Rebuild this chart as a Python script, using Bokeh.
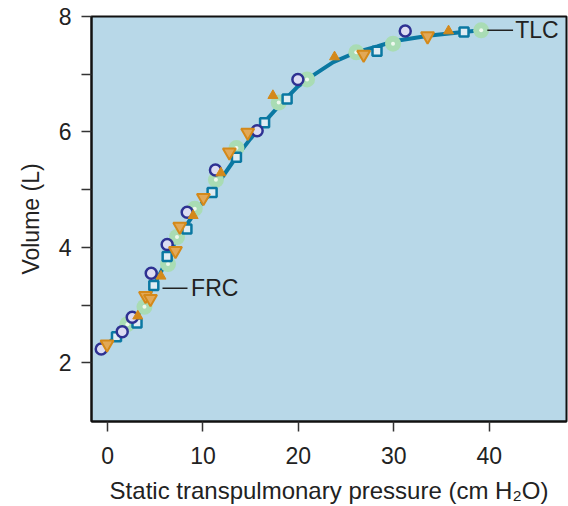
from bokeh.plotting import figure
from bokeh.models import FixedTicker, Range1d, ColumnDataSource
from bokeh.core.properties import value
from bokeh.embed import file_html
from bokeh.resources import INLINE

FONT = "Liberation Sans"

# Pressure-volume curve (cm H2O, L)
curve_x = [-0.63, 0.94, 2.2, 3.14, 4.08, 4.82, 5.65, 6.28, 7.33, 8.38, 9.42, 10.99,
           12.04, 13.51, 14.97, 16.44, 18.12, 19.9, 21.26, 23.66, 26.07, 28.27,
           29.95, 33.82, 37.28, 39.16]
curve_y = [2.26, 2.45, 2.66, 2.81, 3.10, 3.34, 3.59, 3.83, 4.17, 4.41, 4.67, 4.98,
           5.22, 5.57, 5.88, 6.17, 6.48, 6.78, 6.95, 7.21, 7.38, 7.48,
           7.57, 7.67, 7.73, 7.76]

circ_x = [-0.66, 1.54, 2.59, 4.58, 6.25, 8.35, 11.31, 15.68, 19.95, 31.2]
circ_y = [2.24, 2.54, 2.79, 3.55, 4.05, 4.61, 5.34, 6.02, 6.91, 7.75]

sq_x = [0.94, 3.09, 4.85, 6.25, 8.32, 10.96, 13.51, 16.46, 18.82, 28.24, 37.36]
sq_y = [2.45, 2.69, 3.34, 3.84, 4.32, 4.95, 5.56, 6.16, 6.57, 7.40, 7.73]

grn_x = [2.09, 3.87, 6.34, 7.28, 9.14, 11.36, 13.51, 17.94, 20.91, 26.07, 29.92, 39.16]
grn_y = [2.67, 2.97, 3.71, 4.18, 4.67, 5.17, 5.72, 6.51, 6.91, 7.38, 7.53, 7.76]

tdn_x = [-0.05, 3.98, 4.50, 7.12, 7.57, 10.05, 12.77, 14.69, 26.84, 33.54]
tdn_y = [2.32, 3.16, 3.11, 3.94, 4.36, 4.86, 5.65, 5.99, 7.34, 7.66]

tup_x = [3.17, 5.60, 8.97, 11.88, 17.33, 23.79, 35.74]
tup_y = [2.81, 3.50, 4.55, 5.29, 6.63, 7.30, 7.75]

x_ticks = [0, 10, 20, 30, 40]
y_ticks = [2, 4, 6, 8]
y_minor = [3, 5, 7]

labels = ["FRC", "TLC"]
label_x = [8.76, 42.72]
label_y = [3.29, 7.76]
lead_x0 = [5.76, 39.8]
lead_x1 = [8.38, 42.5]

x_title = "Static transpulmonary pressure (cm H\u2082O)"
y_title = "Volume (L)"

p = figure(width=568, height=506, output_backend="svg", toolbar_location=None,
           x_range=Range1d(-1.68, 48.1), y_range=Range1d(0.983, 8.0),
           min_border_left=91, min_border_right=2, min_border_top=16,
           min_border_bottom=83)
p.background_fill_color = "#b8d8e8"
p.border_fill_color = "white"
p.outline_line_color = "#111111"
p.outline_line_width = 2
p.grid.visible = False

p.xaxis.ticker = FixedTicker(ticks=x_ticks)
p.yaxis.ticker = FixedTicker(ticks=y_ticks, minor_ticks=y_minor)
for ax in (p.xaxis, p.yaxis):
    ax.axis_line_color = "#111111"
    ax.axis_line_width = 2
    ax.major_tick_line_color = "#333333"
    ax.major_tick_line_width = 1.5
    ax.major_tick_out = 10
    ax.major_tick_in = 0
    ax.minor_tick_line_color = "#333333"
    ax.minor_tick_line_width = 1.5
    ax.minor_tick_out = 10
    ax.minor_tick_in = 0
    ax.major_label_text_font = FONT
    ax.major_label_text_font_size = "23px"
    ax.major_label_text_color = "#222222"
    ax.axis_label_text_font = FONT
    ax.axis_label_text_font_style = "normal"
    ax.axis_label_text_color = "#222222"
p.xaxis.minor_tick_line_color = None
p.xaxis.axis_label = x_title
p.yaxis.axis_label = y_title
p.xaxis.axis_label_text_font_size = "24px"
p.yaxis.axis_label_text_font_size = "23px"
p.xaxis.major_label_standoff = 15
p.yaxis.major_label_standoff = 10
p.xaxis.axis_label_standoff = 10
p.yaxis.axis_label_standoff = 12

p.line(curve_x, curve_y, line_color="#0a78a2", line_width=4, line_join="round")

p.scatter(grn_x, grn_y, marker="circle", size=16, fill_color="#a9dcb4",
          line_color=None)
p.scatter(grn_x, grn_y, marker="circle", size=4, fill_color="#eef8ee",
          line_color=None)
p.scatter(sq_x, sq_y, marker="square", size=9, fill_color="#dfecf3",
          line_color="#0a78a2", line_width=2.5)
p.scatter(circ_x, circ_y, marker="circle", size=11, fill_color="#dcdcf2",
          line_color="#2e3192", line_width=2.5)
p.scatter(tdn_x, tdn_y, marker="inverted_triangle", size=13, fill_color="#e2a857",
          line_color="#d4891a", line_width=2)
p.scatter(tup_x, tup_y, marker="triangle", size=10, fill_color="#d4891a",
          line_color="#d4891a", line_width=1)

p.segment(x0=lead_x0, y0=label_y, x1=lead_x1, y1=label_y, line_color="#222222",
          line_width=1.5)
src = ColumnDataSource(dict(x=label_x, y=label_y, t=labels))
p.text(x="x", y="y", text="t", source=src, text_font=value(FONT),
       text_font_size="23px", text_color="#222222", text_baseline="middle",
       text_align="left")

open("out.html", "w").write(file_html(p, INLINE))
